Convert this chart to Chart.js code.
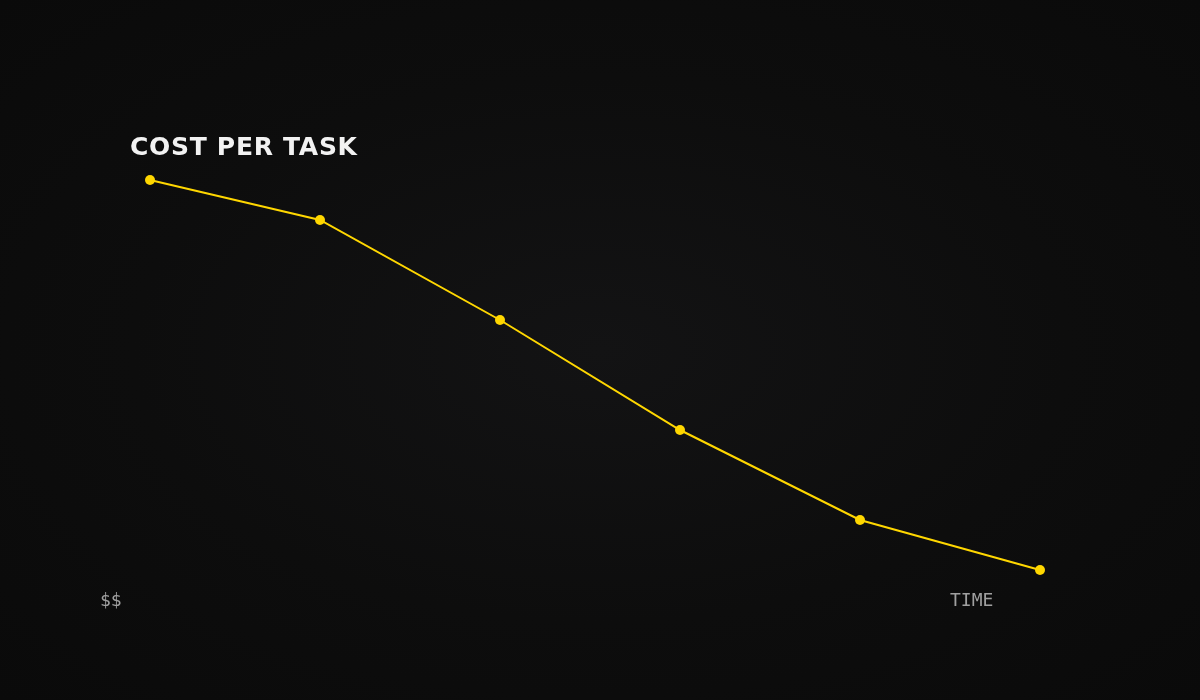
<!DOCTYPE html>
<html lang="en">
<head>
    <meta charset="UTF-8">
    <title>Cost Per Task</title>
    <script src="https://cdn.jsdelivr.net/npm/chart.js"></script>
    <style>
        html, body {
            margin: 0;
            padding: 0;
            width: 1200px;
            height: 700px;
            overflow: hidden;
            background: radial-gradient(ellipse at center, #131314 0%, #0d0d0d 55%, #0a0a0a 100%);
        }
        .wrap {
            position: relative;
            width: 1200px;
            height: 700px;
        }
        canvas {
            position: absolute;
            left: 0;
            top: 0;
        }
        .title {
            position: absolute;
            left: 130px;
            top: 132px;
            font-family: "DejaVu Sans", sans-serif;
            font-weight: bold;
            font-size: 25px;
            letter-spacing: 0.7px;
            color: #f2f2f2;
        }
        .axis-label {
            position: absolute;
            top: 589px;
            font-family: "DejaVu Sans Mono", monospace;
            font-size: 18px;
            color: #a0a0a0;
        }
    </style>
</head>
<body>
    <div class="wrap">
        <canvas id="costChart" width="1200" height="700"></canvas>
        <div class="title">COST PER TASK</div>
        <div class="axis-label" style="left: 100px;">$$</div>
        <div class="axis-label" style="left: 950px;">TIME</div>
    </div>

    <script>
        // time steps (uneven spacing, as drawn)
        const times = [0, 17, 35, 53, 71, 89];
        // cost per task at each step
        const costs = [52, 48, 38, 27, 18, 13];

        const ctx = document.getElementById('costChart').getContext('2d');
        new Chart(ctx, {
            type: 'line',
            data: {
                datasets: [{
                    label: 'Cost per task',
                    data: times.map((t, i) => ({ x: t, y: costs[i] })),
                    borderColor: '#ffd700',
                    backgroundColor: '#ffd700',
                    borderWidth: 2,
                    pointRadius: 5,
                    pointBorderWidth: 0,
                    pointHoverRadius: 5,
                    tension: 0,
                    fill: false
                }]
            },
            options: {
                responsive: false,
                animation: false,
                events: [],
                layout: { padding: 0 },
                scales: {
                    // ranges trimmed so the 5px auto padding lands points where drawn
                    x: { type: 'linear', min: -14.5, max: 104.5, display: false },
                    y: { min: 0.5, max: 69.5, display: false }
                },
                plugins: {
                    legend: { display: false },
                    tooltip: { enabled: false }
                }
            }
        });
    </script>
</body>
</html>
